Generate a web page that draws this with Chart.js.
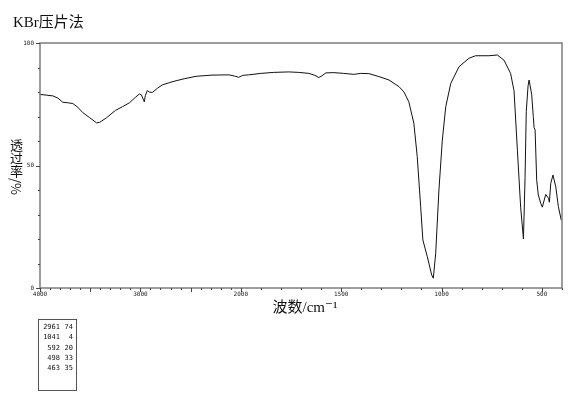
<!DOCTYPE html>
<html>
<head>
<meta charset="utf-8">
<script src="https://cdn.jsdelivr.net/npm/chart.js@4/dist/chart.umd.min.js"></script>
<style>
  html, body { margin: 0; padding: 0; background: #ffffff; }
  #wrap { position: relative; width: 570px; height: 411px; }
  #ytitle {
    position: absolute; left: 10px; top: 139px;
    writing-mode: vertical-rl; text-orientation: mixed;
    font: 13px/13px "Noto Sans CJK SC", sans-serif; color: #111;
    white-space: nowrap;
  }
</style>
</head>
<body>
<div id="wrap"><canvas id="c" width="570" height="411"></canvas><div id="ytitle"></div></div>
<script>
// ---- data ----
const WAVENUMBER = [
  4000, 3950, 3871, 3822, 3772, 3723, 3673, 3624, 3574, 3505, 3436, 3406, 3337, 3248, 3178, 3109,
  3050, 3010, 2990, 2961, 2951, 2931, 2911, 2881, 2832, 2782, 2713, 2644, 2564, 2446, 2287, 2119,
  2060, 2020, 1990, 1960, 1900, 1836, 1761, 1711, 1661, 1631, 1611, 1596, 1576, 1536, 1487, 1437,
  1402, 1362, 1312, 1262, 1212, 1187, 1163, 1138, 1121, 1104, 1093, 1071, 1049, 1041, 1029, 1013,
  996, 979, 954, 913, 863, 830, 764, 722, 689, 656, 639, 622, 606, 592, 584, 578, 569, 564, 551,
  543, 539, 534, 526, 518, 506, 498, 481, 467, 463, 456, 445, 431, 418, 404, 400
];
const TRANSMITTANCE = [
  79.0, 78.8, 78.4, 77.5, 75.8, 75.6, 75.3, 73.8, 71.6, 69.5, 67.4, 67.6, 69.5, 72.5, 74.0, 75.6,
  77.8, 79.2, 78.8, 76.0, 78.5, 80.6, 80.0, 79.8, 81.5, 82.9, 83.8, 84.6, 85.4, 86.4, 86.9, 87.0,
  86.5, 86.0, 86.8, 87.0, 87.6, 88.0, 88.2, 88.0, 87.6, 86.8, 85.9, 86.6, 87.8, 87.9, 87.6, 87.2,
  87.6, 87.5, 86.3, 84.9, 82.2, 80.0, 76.0, 67.3, 53.6, 33.2, 19.6, 12.8, 5.3, 4.0, 14.2, 40.0,
  60.4, 74.0, 83.5, 90.3, 93.8, 94.8, 94.8, 95.1, 93.0, 87.6, 80.5, 56.0, 33.0, 20.0, 45.0, 72.0, 82.5, 84.9, 79.0,
  70.0, 65.5, 64.5, 44.0, 38.0, 34.6, 33.0, 38.2, 36.6, 35.0, 42.7, 46.1, 41.3, 33.2, 27.8, 27.5
];
const X_TICKS = [4000, 3000, 2000, 1500, 1000, 500];
const Y_TICKS = [0, 50, 100];
const PEAK_WN = [2961, 1041, 592, 498, 463];
const PEAK_T = [74, 4, 20, 33, 35];
const TITLE = 'KBr压片法';
const X_TITLE = '波数/cm⁻¹';
const Y_TITLE = '透过率/%';

document.getElementById('ytitle').textContent = Y_TITLE;

// ---- custom split IR wavenumber scale (4000-2000 at half scale) ----
const X_MIN = 400, X_MAX = 4000, X_BREAK = 2000;
function toUnit(v) { return v >= X_BREAK ? (X_MAX - v) / 2 : (X_MAX - X_BREAK) / 2 + (X_BREAK - v); }
const TOTAL_UNITS = toUnit(X_MIN);
function fromUnit(u) {
  const h = (X_MAX - X_BREAK) / 2;
  return u <= h ? X_MAX - 2 * u : X_BREAK - (u - h);
}
class IRScale extends Chart.LinearScale {
  determineDataLimits() { this.min = X_MIN; this.max = X_MAX; }
  buildTicks() { return X_TICKS.map(v => ({ value: v })); }
  getPixelForValue(v) { return this.getPixelForDecimal(toUnit(v) / TOTAL_UNITS); }
  getValueForPixel(p) { return fromUnit(this.getDecimalForPixel(p) * TOTAL_UNITS); }
}
IRScale.id = 'irscale';
IRScale.defaults = Chart.LinearScale.defaults;
Chart.register(IRScale);

const AXIS_GRAY = '#7c7c7c';
const SERIF_CJK = '"Liberation Serif", "DejaVu Serif", "Noto Sans CJK SC", serif';

const decorations = {
  id: 'decorations',
  afterDatasetsDraw(chart) {
    const ctx = chart.ctx;
    const a = chart.chartArea;
    const xs = chart.scales.x, ys = chart.scales.y;
    ctx.save();
    // frame
    ctx.strokeStyle = AXIS_GRAY;
    ctx.lineWidth = 1.5;
    ctx.strokeRect(a.left, a.top, a.right - a.left, a.bottom - a.top);
    // x tick marks
    ctx.lineWidth = 1;
    ctx.strokeStyle = '#444';
    for (let v = X_MAX; v >= X_MIN; v -= 100) {
      const px = Math.round(xs.getPixelForValue(v)) + 0.5;
      const len = (v % 500 === 0) ? 4 : 2;
      ctx.beginPath(); ctx.moveTo(px, a.bottom); ctx.lineTo(px, a.bottom + len); ctx.stroke();
    }
    // y tick marks
    for (let v = 0; v <= 100; v += 10) {
      const py = Math.round(ys.getPixelForValue(v)) + 0.5;
      const len = (v % 50 === 0) ? 4 : 2;
      ctx.beginPath(); ctx.moveTo(a.left - len, py); ctx.lineTo(a.left, py); ctx.stroke();
    }
    // title
    ctx.fillStyle = '#111';
    ctx.font = '15px ' + SERIF_CJK;
    ctx.textBaseline = 'alphabetic';
    ctx.textAlign = 'left';
    ctx.fillText(TITLE, 13, 27);
    // x axis title
    ctx.font = '15px ' + SERIF_CJK;
    ctx.textAlign = 'center';
    ctx.textBaseline = 'middle';
    ctx.fillText(X_TITLE, 305, 308);
    // peak table
    ctx.strokeStyle = '#555';
    ctx.lineWidth = 1;
    ctx.strokeRect(38.5, 319.5, 38, 71);
    ctx.font = '7px "DejaVu Sans Mono", monospace';
    ctx.textBaseline = 'middle';
    ctx.textAlign = 'right';
    PEAK_WN.forEach((w, i) => {
      const y = 327 + i * 10.4;
      ctx.fillText(String(w), 60, y);
      ctx.fillText(String(PEAK_T[i]), 73, y);
    });
    ctx.restore();
  }
};

new Chart(document.getElementById('c'), {
  type: 'line',
  data: {
    datasets: [{
      data: WAVENUMBER.map((w, i) => ({ x: w, y: TRANSMITTANCE[i] })),
      borderColor: '#111',
      borderWidth: 1,
      pointRadius: 0,
      tension: 0,
      fill: false
    }]
  },
  options: {
    responsive: false,
    animation: false,
    layout: { padding: { top: 43, right: 8, left: 0, bottom: 0 } },
    plugins: { legend: { display: false }, tooltip: { enabled: false }, title: { display: false } },
    scales: {
      x: {
        type: 'irscale',
        min: X_MIN, max: X_MAX,
        grid: { display: false, drawTicks: false },
        border: { display: false },
        afterFit: s => { s.height = 123; },
        ticks: {
          autoSkip: false, maxRotation: 0, minRotation: 0, padding: 3,
          color: '#222',
          font: { family: '"DejaVu Sans Mono", monospace', size: 6 },
          callback: v => String(v)
        }
      },
      y: {
        type: 'linear',
        min: 0, max: 100,
        afterFit: s => { s.width = 40; },
        afterBuildTicks: s => { s.ticks = Y_TICKS.map(v => ({ value: v })); },
        grid: { display: false, drawTicks: false },
        border: { display: false },
        ticks: {
          padding: 6, color: '#222',
          font: { family: '"DejaVu Sans Mono", monospace', size: 6 },
          callback: v => String(v)
        }
      }
    }
  },
  plugins: [decorations]
});
</script>
</body>
</html>
